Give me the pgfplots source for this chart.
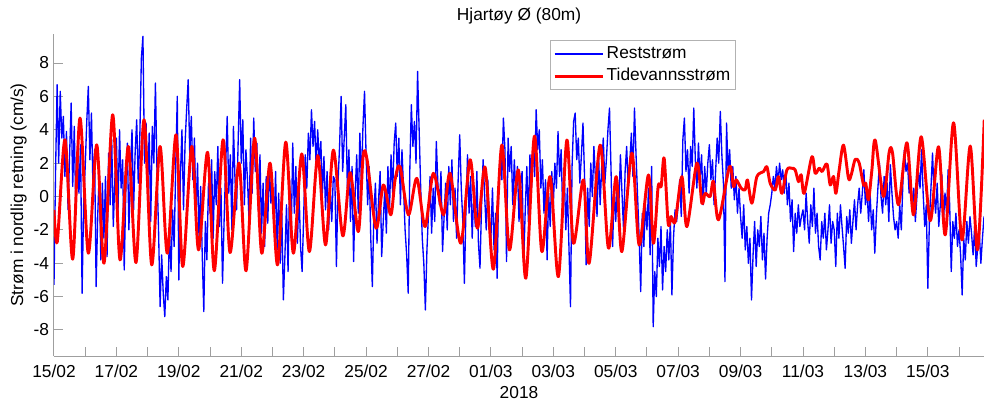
\documentclass[border=0pt]{standalone}
\usepackage{fontspec}
\setmainfont{Liberation Sans}
\usepackage{pgfplots}
\usepackage{pgfplotstable}
\pgfplotsset{compat=1.18}

% residual current, one value every 0.05 day from 15/02 00:00
\pgfplotstableread[row sep=\\]{
y\\
-5.3\\ 1.5\\ 6.7\\ 2.0\\ 6.3\\ 3.5\\ 4.8\\ 1.2\\ 3.9\\ -0.8\\ 2.5\\ 5.6\\ 0.6\\ 4.2\\ -1.0\\ 2.8\\ 0.2\\ 3.1\\ -5.8\\ -0.5\\
1.8\\ 4.5\\ 6.6\\ 2.2\\ 5.0\\ 0.4\\ 2.8\\ -5.4\\ -1.2\\ 1.5\\ -3.8\\ 0.8\\ -2.5\\ 1.2\\ -3.6\\ 2.6\\ -0.5\\ 3.4\\ -1.8\\ 1.0\\
3.5\\ -1.0\\ 4.0\\ 0.5\\ 2.2\\ -4.4\\ 0.2\\ 3.2\\ -2.0\\ 1.5\\ 4.0\\ -0.8\\ 2.6\\ 4.6\\ 0.8\\ 3.6\\ 8.3\\ 9.6\\ 2.0\\ 4.4\\
0.5\\ 3.8\\ -1.5\\ 4.2\\ 2.0\\ 6.8\\ 1.5\\ -2.0\\ -6.6\\ -3.5\\ -5.8\\ -7.2\\ -4.8\\ -6.2\\ -2.0\\ -4.5\\ -0.8\\ -3.0\\ 1.8\\ 6.0\\
-5.0\\ 1.2\\ 4.0\\ -0.8\\ 3.2\\ 5.2\\ 7.0\\ 2.5\\ 4.8\\ 1.0\\ 3.5\\ -1.2\\ 2.0\\ -2.8\\ 0.6\\ -3.5\\ -6.9\\ -1.5\\ -3.8\\ 0.8\\
-1.0\\ 2.2\\ -2.5\\ 1.5\\ -0.5\\ 3.0\\ -1.8\\ 0.5\\ -5.2\\ -1.5\\ 1.8\\ 4.8\\ 0.2\\ 2.5\\ -2.0\\ 4.2\\ 1.0\\ -0.8\\ 3.2\\ 7.0\\
2.0\\ 4.6\\ -0.5\\ 2.8\\ 1.0\\ -1.5\\ 3.5\\ 0.2\\ 4.7\\ 1.5\\ 3.2\\ -0.8\\ 2.5\\ -2.2\\ 0.8\\ -3.0\\ 1.2\\ -1.6\\ 2.0\\ -0.4\\
0.5\\ -2.0\\ 1.5\\ -3.2\\ 0.2\\ -4.0\\ -1.0\\ -6.2\\ -3.5\\ -0.5\\ -4.5\\ 1.0\\ -2.5\\ 3.2\\ -1.0\\ 1.8\\ -2.8\\ 0.5\\ -3.0\\ -4.5\\
-1.2\\ 2.5\\ 0.5\\ 3.8\\ 2.2\\ 5.2\\ 3.0\\ 4.5\\ 1.8\\ 4.0\\ 2.0\\ 3.3\\ 0.2\\ 2.4\\ -0.8\\ 1.5\\ -2.0\\ 0.5\\ -1.5\\ 1.2\\
1.0\\ -4.2\\ 0.8\\ 3.0\\ 6.0\\ 1.5\\ 3.5\\ 5.5\\ 0.5\\ 2.8\\ -1.5\\ 1.8\\ -3.9\\ 0.2\\ 2.5\\ -1.0\\ 3.8\\ 0.8\\ 4.2\\ 6.3\\
2.5\\ -0.5\\ 1.8\\ -2.5\\ -5.4\\ -1.0\\ 0.8\\ -2.8\\ -0.2\\ 1.5\\ -3.6\\ -1.5\\ 0.5\\ -2.2\\ 1.8\\ -0.8\\ 2.5\\ 0.2\\ 3.2\\ 4.4\\
1.2\\ 3.5\\ -0.5\\ 2.8\\ 0.5\\ -2.0\\ -3.5\\ -5.8\\ 1.5\\ 5.5\\ 3.0\\ 4.5\\ 2.0\\ 7.5\\ 4.0\\ 0.5\\ -2.5\\ -4.0\\ -6.8\\ -3.2\\
-1.0\\ 1.2\\ -2.2\\ 0.5\\ -1.5\\ 3.3\\ 0.8\\ -0.5\\ 1.5\\ -3.3\\ -1.2\\ 0.8\\ -2.0\\ 1.8\\ -0.5\\ 2.2\\ -1.5\\ 0.5\\ -2.5\\ 1.0\\
3.7\\ 0.5\\ -1.5\\ -5.2\\ -0.8\\ 2.5\\ -1.0\\ 1.2\\ -2.5\\ 0.2\\ -1.8\\ 1.5\\ -2.8\\ -4.3\\ -0.5\\ 2.2\\ 0.0\\ -2.0\\ 1.0\\ -1.5\\
-2.5\\ 0.5\\ -3.2\\ -1.0\\ -4.9\\ 0.8\\ 2.5\\ 1.0\\ 4.7\\ 2.8\\ -3.9\\ 3.5\\ 1.5\\ 3.0\\ -0.5\\ 2.2\\ 0.2\\ 1.8\\ -1.5\\ 0.8\\
1.5\\ -4.0\\ -0.8\\ 1.8\\ -1.5\\ 2.5\\ 0.5\\ 3.2\\ 1.2\\ 5.2\\ 2.8\\ 4.0\\ 0.5\\ 2.2\\ -1.0\\ 1.0\\ -3.8\\ 0.2\\ -1.8\\ 1.5\\
-0.5\\ 2.0\\ 0.5\\ 3.9\\ 1.2\\ 2.8\\ -1.0\\ 1.5\\ -2.0\\ 0.5\\ -3.0\\ -6.6\\ 1.8\\ 4.5\\ 5.0\\ 2.2\\ 3.5\\ 0.8\\ 2.5\\ 4.4\\
1.2\\ -4.1\\ 0.5\\ -1.8\\ 2.0\\ 0.0\\ 3.0\\ 1.0\\ -1.2\\ 2.5\\ -0.5\\ 1.8\\ 3.5\\ 0.8\\ 2.2\\ 4.0\\ 5.3\\ 1.5\\ -3.0\\ 0.5\\
-1.5\\ 1.0\\ -0.5\\ 2.5\\ 0.2\\ -2.0\\ 1.5\\ 3.0\\ 0.5\\ 2.0\\ 3.8\\ 1.2\\ 5.3\\ 2.5\\ 0.0\\ -2.5\\ -5.7\\ -1.0\\ -3.0\\ -0.5\\
-2.0\\ 0.5\\ -3.5\\ 1.8\\ -7.8\\ -4.5\\ -6.0\\ -2.5\\ -4.2\\ -1.8\\ -5.6\\ -3.0\\ -4.5\\ -2.0\\ -3.8\\ -1.5\\ -5.9\\ -2.5\\ -0.8\\ -1.5\\
-0.5\\ 1.0\\ -1.2\\ 3.4\\ 4.7\\ 1.5\\ 2.8\\ 0.2\\ 3.0\\ 1.8\\ 5.3\\ 2.2\\ 0.5\\ 3.2\\ 1.0\\ 2.5\\ -0.5\\ 1.8\\ 0.2\\ 2.0\\
3.1\\ 1.0\\ 2.2\\ -0.5\\ 1.5\\ 3.5\\ 2.0\\ 5.1\\ 2.5\\ 0.8\\ -5.1\\ 4.4\\ 1.5\\ 2.8\\ 0.5\\ 1.8\\ -0.2\\ 1.2\\ -1.0\\ 0.5\\
-1.2\\ -2.5\\ -0.5\\ -3.2\\ -1.8\\ -4.0\\ -2.5\\ -6.2\\ -3.5\\ -1.5\\ -4.2\\ -2.0\\ -3.0\\ -1.2\\ -3.8\\ -2.2\\ -4.95\\ -2.5\\ -1.0\\ -0.5\\
0.2\\ 1.2\\ 0.5\\ 1.8\\ 0.8\\ 2.0\\ 1.0\\ 1.6\\ 0.2\\ 1.5\\ -0.5\\ 0.8\\ -1.5\\ -0.2\\ -3.3\\ -1.0\\ -2.2\\ -0.5\\ -1.8\\ -1.2\\
-0.8\\ -2.0\\ 0.2\\ -1.5\\ -2.8\\ -0.5\\ -1.8\\ 0.5\\ -2.2\\ -1.0\\ -3.0\\ -3.8\\ -1.5\\ -2.5\\ -1.0\\ -3.2\\ -2.0\\ -0.5\\ -2.8\\ -1.5\\
-2.0\\ -4.2\\ -1.0\\ -2.5\\ -0.5\\ -1.8\\ -3.0\\ -4.3\\ -1.2\\ -2.2\\ -0.8\\ -2.8\\ -1.5\\ -0.2\\ -2.0\\ -0.5\\ 0.5\\ -1.0\\ 0.2\\ 1.6\\
-0.5\\ 0.5\\ -1.5\\ 0.2\\ -2.0\\ -0.8\\ -3.4\\ -1.2\\ 0.5\\ 2.0\\ 0.0\\ -1.0\\ 1.2\\ -0.5\\ 0.8\\ -1.5\\ 1.9\\ 0.2\\ -1.2\\ -2.0\\
-1.5\\ -2.5\\ -0.5\\ -2.0\\ 0.8\\ 2.8\\ 1.5\\ 2.0\\ 0.2\\ 1.2\\ -0.8\\ 0.5\\ -1.5\\ 0.0\\ 1.5\\ 0.5\\ 2.8\\ 0.2\\ -1.8\\ -0.5\\
-5.5\\ -1.5\\ 0.5\\ 2.6\\ 0.2\\ -1.0\\ 0.8\\ -1.8\\ -0.5\\ 1.3\\ -1.5\\ 0.2\\ -1.0\\ 1.6\\ -0.5\\ -4.5\\ -1.5\\ -2.5\\ -1.0\\ -3.0\\
-2.0\\ -3.5\\ -5.9\\ -2.5\\ -3.8\\ -1.5\\ -2.8\\ -1.2\\ -2.2\\ -3.5\\ -1.8\\ -4.2\\ -3.0\\ -2.2\\ -4.0\\ -2.5\\ -1.2\\
}\rest

\begin{document}
\fontsize{13}{15.6}\selectfont
\begin{tikzpicture}
\begin{axis}[
  at={(0,0)}, anchor=south west,
  width=697.5pt, height=241.5pt, scale only axis,
  xmin=0, xmax=29.8, ymin=-9.56, ymax=9.74,
  axis lines*=left,
  axis line style={gray!75, line width=0.75pt},
  tick align=inside,
  major tick length=7pt, minor tick length=7pt,
  tick style={gray!75, line width=0.75pt},
  xtick={0,2,...,28}, minor xtick={1,3,...,29},
  xticklabels={15/02,17/02,19/02,21/02,23/02,25/02,27/02,01/03,03/03,05/03,07/03,09/03,11/03,13/03,15/03},
  ytick={-8,-6,...,8},
  /pgf/number format/assume math mode=true,
  xticklabel style={anchor=base, yshift=-16.3pt},
  yticklabel style={anchor=east, inner sep=0pt, xshift=-3.5pt},
  xlabel={2018},
  xlabel style={at={(axis description cs:0.5,0)}, anchor=base, yshift=-31.7pt},
  ylabel={Strøm i nordlig retning (cm/s)},
  ylabel style={at={(axis description cs:-0.0333,0.5)}, anchor=base},
  title={Hjartøy Ø (80m)},
  title style={at={(axis description cs:0.5,1)}, anchor=base, yshift=4pt},
  legend style={at={(0.5333,0.9814)}, anchor=north west, draw=gray!60,
    line width=0.75pt, fill=white, inner sep=2pt, row sep=0pt,
    nodes={inner sep=2pt, text height=9.5pt, text depth=3pt},
    cells={anchor=west}},
  legend image code/.code={\draw[#1] (0pt,0pt) -- (36pt,0pt);},
]
\addplot[blue, line width=1pt, line join=round]
  table[x expr=\coordindex*0.05, y=y] {\rest};
\addlegendentry{Reststrøm}

\addplot[red, line width=2.2pt, smooth, line join=round] coordinates {
(0,-0.8)(0.106,-2.7)(0.353,3.4)(0.599,-3.76)(0.833,4.7)(1.099,-3.4)(1.369,3.1)(1.603,-4.0)
(1.881,4.9)(2.115,-3.8)(2.381,3.0)(2.628,-3.96)(2.885,4.6)(3.131,-4.1)(3.397,3.0)(3.631,-3.4)
(3.910,3.7)(4.125,-4.2)(4.413,3.0)(4.631,-3.2)(4.920,2.65)(5.138,-4.45)(5.417,3.4)(5.641,-3.36)
(5.929,2.0)(6.154,-4.45)(6.426,3.5)(6.657,-3.4)(6.923,2.0)(7.163,-4.1)(7.426,3.26)(7.670,-3.4)
(7.939,2.55)(8.183,-3.3)(8.452,2.45)(8.702,-2.9)(8.952,2.78)(9.253,-2.36)(9.487,1.43)(9.753,-2.1)
(9.904,2.4)(10.032,2.2)(10.321,-1.9)(10.554,0.69)(10.792,-1.1)(10.929,1.0)(11.090,1.78)(11.356,-1.1)
(11.625,1.09)(11.891,-1.8)(12.157,1.39)(12.478,-1.1)(12.692,1.39)(13.035,-2.8)(13.333,2.2)(13.567,-1.9)
(13.814,1.75)(14.080,-4.36)(14.349,3.08)(14.593,-3.2)(14.881,1.59)(15.119,-4.9)(15.394,3.62)(15.631,-3.3)
(15.897,1.19)(16.163,-4.8)(16.433,3.38)(16.644,-2.8)(16.965,0.99)(17.147,-4.0)(17.500,3.08)(17.766,-3.1)
(18.013,1.19)(18.196,-3.3)(18.516,2.6)(18.750,-2.9)(19.048,1.29)(19.208,-2.8)(19.359,0.6)(19.455,0.6)
(19.551,2.29)(19.679,-1.6)(19.776,-1.2)(19.904,-1.5)(20.119,1.19)(20.279,-1.8)(20.600,2.0)(20.760,-0.4)
(20.865,0.19)(21.026,0.0)(21.131,0.89)(21.292,-1.4)(21.644,1.78)(21.772,0.59)(21.859,1.0)(22.019,0.5)
(22.147,0.4)(22.221,0.99)(22.362,-0.4)(22.522,1.19)(22.734,1.49)(22.843,1.78)(22.949,0.79)(23.109,0.39)
(23.215,1.19)(23.324,0.19)(23.484,1.59)(23.644,1.69)(23.750,1.59)(23.856,0.89)(23.942,1.3)(24.038,0.19)
(24.285,2.38)(24.391,1.39)(24.519,1.7)(24.615,1.5)(24.766,1.95)(24.872,0.69)(24.978,1.2)(25.054,0.19)
(25.160,1.6)(25.298,3.08)(25.458,1.09)(25.545,1.3)(25.673,2.23)(25.801,2.0)(25.939,0.69)(26.010,0.8)
(26.099,-0.2)(26.208,1.6)(26.314,3.38)(26.580,0.0)(26.763,2.68)(26.869,2.6)(27.061,-0.5)(27.330,3.22)
(27.542,-1.1)(27.788,3.58)(28.077,-1.45)(28.343,2.98)(28.558,-2.3)(28.824,4.42)(29.093,-2.6)(29.359,3.02)
(29.593,-3.2)(29.808,4.6)
};
\addlegendentry{Tidevannsstrøm}
\end{axis}
\pgfresetboundingbox
\path[use as bounding box] (-40.5pt,-35.25pt) rectangle (697.5pt,267pt);
\end{tikzpicture}
\end{document}
